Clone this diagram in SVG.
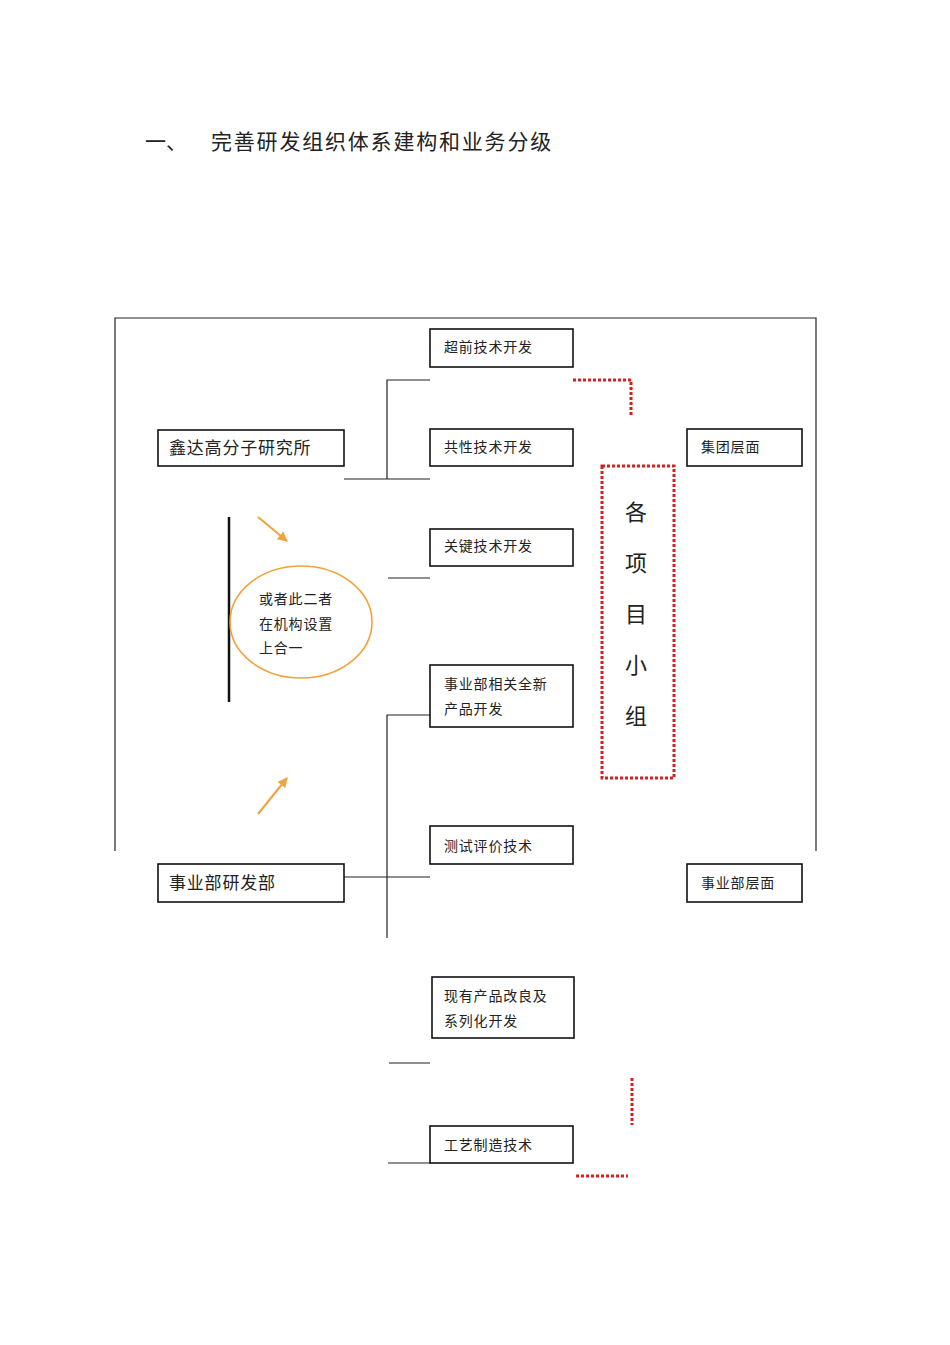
<svg xmlns="http://www.w3.org/2000/svg" width="950" height="1345" viewBox="0 0 950 1345">
<defs>
<style>
text{font-family:"Liberation Sans","Noto Sans CJK SC",sans-serif;fill:#222}
.box{fill:#fff;stroke:#111;stroke-width:1.6}
.ln{stroke:#222;stroke-width:1.2;fill:none}
.red{stroke:#d42020;stroke-width:3;stroke-dasharray:3 2;fill:none}
.or{stroke:#f2a23a;stroke-width:2;fill:none}
.s{font-size:14px;letter-spacing:0.8px}
.m{font-size:17px;letter-spacing:0.8px}
</style>
<marker id="ah" viewBox="0 0 10 10" refX="9" refY="5" markerWidth="5" markerHeight="5" orient="auto"><path d="M0,0L10,5L0,10z" fill="#f2a23a"/></marker>
</defs>
<rect width="950" height="1345" fill="#fff"/>
<text x="145" y="149" font-size="21">一、</text>
<text x="211" y="149" font-size="21" letter-spacing="1.8">完善研发组织体系建构和业务分级</text>
<g id="connectors">
<path class="ln" d="M115,851V318H816V851"/>
<path class="ln" d="M430,380H387V479M344,479H430M388,578H430M430,715H387V938M344,877H430M389,1063H430M388,1163H430"/>
<line x1="229" y1="517" x2="229" y2="702" stroke="#111" stroke-width="2.5"/>
<line class="or" x1="258" y1="517" x2="287" y2="541" marker-end="url(#ah)"/>
<line class="or" x1="258" y1="814" x2="287" y2="778" marker-end="url(#ah)"/>
<path class="red" d="M573,380H631V415M632,1078V1125M576,1176H628"/>
</g>
<g id="n1"><rect class="box" x="430" y="329" width="143" height="38"/><text class="s" x="444" y="352">超前技术开发</text></g>
<g id="n2"><rect class="box" x="430" y="429" width="143" height="37"/><text class="s" x="444" y="452">共性技术开发</text></g>
<g id="n3"><rect class="box" x="430" y="529" width="143" height="37"/><text class="s" x="444" y="551">关键技术开发</text></g>
<g id="n4"><rect class="box" x="430" y="665" width="143" height="62"/><text class="s" x="444" y="689">事业部相关全新</text><text class="s" x="444" y="714">产品开发</text></g>
<g id="n5"><rect class="box" x="430" y="826" width="143" height="38"/><text class="s" x="444" y="851">测试评价技术</text></g>
<g id="n6"><rect class="box" x="432" y="977" width="142" height="61"/><text class="s" x="444" y="1001">现有产品改良及</text><text class="s" x="444" y="1026">系列化开发</text></g>
<g id="n7"><rect class="box" x="430" y="1126" width="143" height="37"/><text class="s" x="444" y="1150">工艺制造技术</text></g>
<g id="n8"><rect class="box" x="158" y="430" width="186" height="36"/><text class="m" x="169" y="454">鑫达高分子研究所</text></g>
<g id="n9"><rect class="box" x="158" y="864" width="186" height="38"/><text class="m" x="169" y="889">事业部研发部</text></g>
<g id="n10"><rect class="box" x="687" y="429" width="115" height="37"/><text class="s" x="701" y="452">集团层面</text></g>
<g id="n11"><rect class="box" x="687" y="864" width="115" height="38"/><text class="s" x="701" y="888">事业部层面</text></g>
<g id="n12"><ellipse cx="301" cy="622" rx="71" ry="56" stroke="#f2a23a" stroke-width="1.6" fill="none"/><text class="s" x="259" y="604">或者此二者</text><text class="s" x="259" y="629">在机构设置</text><text class="s" x="259" y="653">上合一</text></g>
<g id="n13"><rect class="red" x="602" y="466" width="72" height="312"/>
<g font-size="22" text-anchor="middle"><text x="636" y="520">各</text><text x="636" y="571">项</text><text x="636" y="622">目</text><text x="636" y="673">小</text><text x="636" y="724">组</text></g></g>
</svg>
